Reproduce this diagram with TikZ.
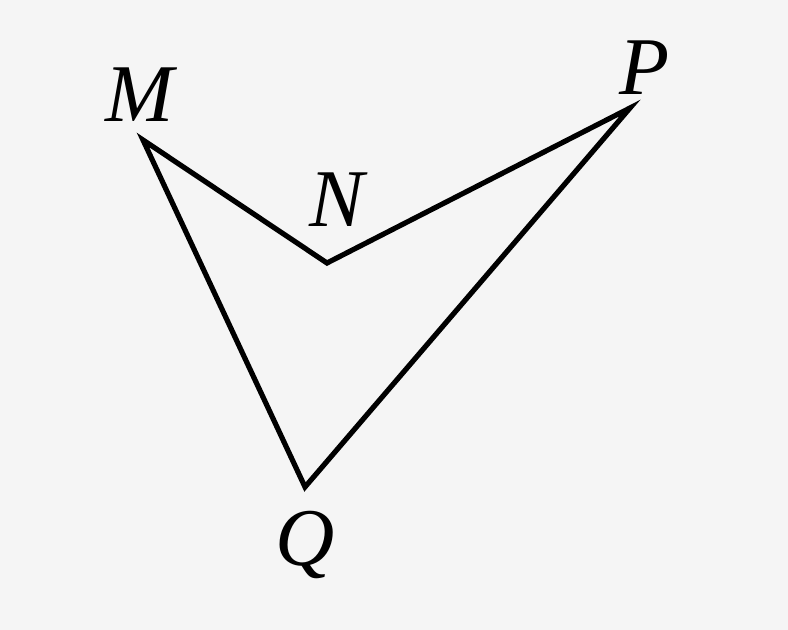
\documentclass[tikz,border=0pt]{standalone}
\usepackage{fontspec}
\setmainfont{Liberation Serif}
\begin{document}
\begin{tikzpicture}[x=0.5pt,y=-0.5pt,
  lbl/.style={font=\fontsize{41}{44}\selectfont\itshape, inner sep=0pt},
  edge/.style={line width=2.6pt, line join=miter}]
\fill[black!4] (0,0) rectangle (788,630);
\useasboundingbox (0,0) rectangle (788,630);
\coordinate (M) at (143,140);
\coordinate (N) at (327,263);
\coordinate (P) at (630,108);
\coordinate (Q) at (305,487);
\draw[edge] (M) -- (N) -- (P) -- (Q) -- cycle;
\node[lbl] (lM) at (140,95) {M};
\node[lbl] (lN) at (337,200) {N};
\node[lbl] (lP) at (645,68) {P};
\node[lbl] (lQ) at (305,545) {Q};
\end{tikzpicture}
\end{document}
